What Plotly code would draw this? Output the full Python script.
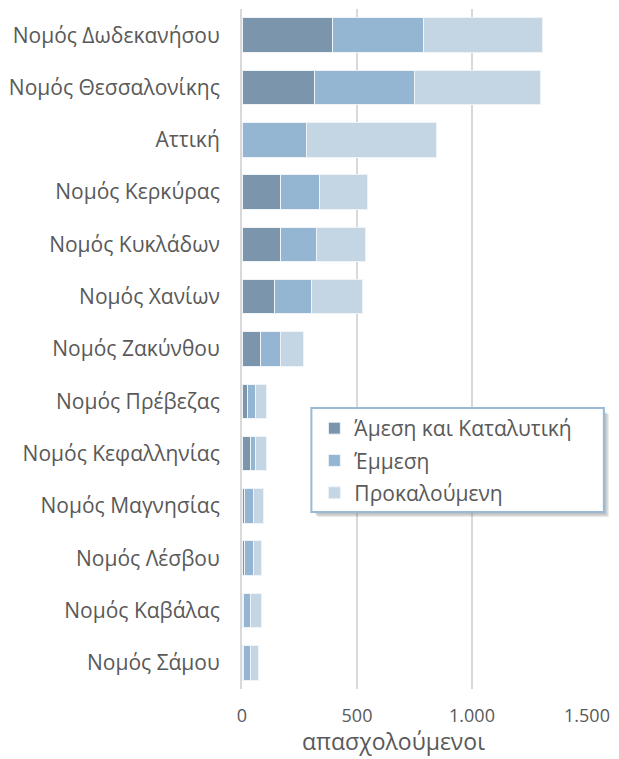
import plotly.graph_objects as go

categories = ["Νομός Δωδεκανήσου", "Νομός Θεσσαλονίκης", "Αττική", "Νομός Κερκύρας",
              "Νομός Κυκλάδων", "Νομός Χανίων", "Νομός Ζακύνθου", "Νομός Πρέβεζας",
              "Νομός Κεφαλληνίας", "Νομός Μαγνησίας", "Νομός Λέσβου", "Νομός Καβάλας",
              "Νομός Σάμου"]
direct = [393, 316, 0, 166, 166, 143, 82, 26, 39, 10, 10, 8, 8]
indirect = [395, 436, 281, 171, 158, 160, 84, 34, 21, 38, 38, 31, 31]
induced = [519, 544, 565, 209, 211, 220, 102, 47, 47, 47, 37, 46, 34]
series_names = ["Άμεση και Καταλυτική", "Έμμεση", "Προκαλούμενη"]
colors = ["#7b96ac", "#95b6d3", "#c4d5e4"]
tick_vals = [0, 500, 1000, 1500]
tick_text = ["0", "500", "1.000", "1.500"]
x_title = "απασχολούμενοι"

FONT = "Open Sans"
GRAY = "#595959"

fig = go.Figure()
for i, (name, vals, col) in enumerate(zip(series_names, [direct, indirect, induced], colors)):
    fig.add_trace(go.Bar(
        y=categories, x=vals, name=name, orientation="h",
        legendgroup="g%d" % i,
        marker=dict(color=col, line=dict(color="#eef3f8", width=1)),
    ))

W, H = 619, 759
L, R, T, B = 240, 31, 9, 70
pw = W - L - R
ph = H - T - B

# legend box in pixels
lx0, ly0, lx1, ly1 = 310, 408, 605, 512
def px(x):
    return (x - L) / pw
def py(y):
    return (H - B - y) / ph

shapes = []
for i, op in enumerate([0.08, 0.09, 0.11, 0.13]):
    d = 2 + i
    shapes.append(dict(type="rect", xref="paper", yref="paper",
                       x0=px(lx0 + 3 + i), x1=px(lx1 + d),
                       y0=py(ly1 + d), y1=py(ly0 + 3 + i),
                       fillcolor="rgba(80,80,80,%.2f)" % op, line=dict(width=0),
                       layer="above"))
shapes.append(dict(type="rect", xref="paper", yref="paper",
                   x0=px(lx0), x1=px(lx1), y0=py(ly1), y1=py(ly0),
                   fillcolor="white", line=dict(color="#9ab9d7", width=2),
                   layer="above"))

fig.update_layout(
    width=W, height=H,
    margin=dict(l=L, r=R, t=T, b=B, pad=0),
    barmode="stack", bargap=0.34,
    plot_bgcolor="white", paper_bgcolor="white",
    font=dict(family=FONT, color=GRAY, size=20),
    showlegend=True,
    legend=dict(x=px(lx0 + 3), y=py(ly0 + 0), xanchor="left", yanchor="top",
                bgcolor="rgba(0,0,0,0)", borderwidth=0,
                font=dict(size=21, color=GRAY, family=FONT),
                traceorder="grouped", itemwidth=30, tracegroupgap=2),
    xaxis=dict(range=[0, 1500], tickvals=tick_vals, ticktext=tick_text,
               showgrid=True, gridcolor="#d9d9d9", gridwidth=2,
               zeroline=False, showline=False, ticks="",
               tickfont=dict(size=18, color=GRAY), ticklabelstandoff=14),
    yaxis=dict(autorange="reversed", showline=True, linecolor="#d9d9d9",
               linewidth=2, ticks="", tickfont=dict(size=21, color=GRAY),
               ticklabelstandoff=16, showgrid=False),
    shapes=shapes,
    annotations=[dict(text=x_title, xref="paper", yref="paper",
                      x=px(393), y=py(741), xanchor="center", yanchor="middle",
                      showarrow=False, font=dict(size=23, color=GRAY, family=FONT))],
)

fig.write_html("out.html", config={"displayModeBar": False},
               post_script="document.body.style.margin='0';")
